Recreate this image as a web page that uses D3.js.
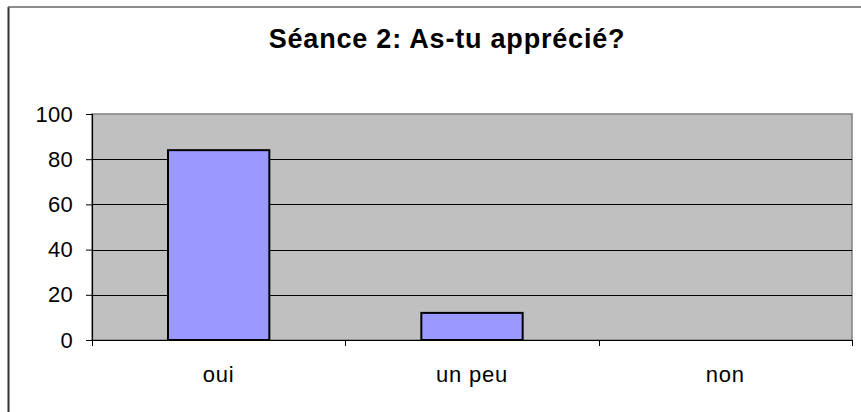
<!DOCTYPE html>
<html><head><meta charset="utf-8">
<script src="https://cdn.jsdelivr.net/npm/d3@7"></script>
<style>body{margin:0;background:#fff}svg{display:block}</style>
</head><body>
<script>
const categories = ["oui", "un peu", "non"];
const values = [84, 12, 0];
const yTicks = [0, 20, 40, 60, 80, 100];
const title = "Séance 2: As-tu apprécié?";

const W = 861, H = 412;
const m = {left: 92, right: 9, top: 114, bottom: 72};
const FF = "Arial, 'Liberation Sans', sans-serif";
const svg = d3.select("body").append("svg").attr("width", W).attr("height", H)
  .style("font-family", FF);

// outer frame
svg.append("line").attr("x1", 8.5).attr("x2", 8.5).attr("y1", 7).attr("y2", H)
  .attr("stroke", "#333").attr("stroke-width", 2);
svg.append("line").attr("x1", 8).attr("x2", W).attr("y1", 7).attr("y2", 7)
  .attr("stroke", "#666").attr("stroke-width", 1.5);

const x = d3.scaleBand().domain(categories).range([m.left, W - m.right]).paddingInner(0).paddingOuter(0);
const y = d3.scaleLinear().domain([0, 100]).range([H - m.bottom, m.top]);

// plot area
svg.append("rect").attr("x", m.left).attr("y", m.top)
  .attr("width", W - m.right - m.left).attr("height", H - m.bottom - m.top)
  .attr("fill", "#C0C0C0").attr("stroke", "#808080").attr("stroke-width", 1.5);

// gridlines
svg.append("g").selectAll("line").data(yTicks.filter(d => d > 0 && d < 100)).join("line")
  .attr("x1", m.left).attr("x2", W - m.right)
  .attr("y1", d => Math.round(y(d)) + 0.5).attr("y2", d => Math.round(y(d)) + 0.5)
  .attr("stroke", "#000").attr("stroke-width", 1);

// bars
const bw = x.bandwidth() / 2.5;
svg.append("g").selectAll("rect").data(categories.map((c, i) => ({c, v: values[i]})).filter(d => d.v > 0)).join("rect")
  .attr("x", d => x(d.c) + x.bandwidth() / 2 - bw / 2)
  .attr("y", d => y(d.v))
  .attr("width", bw)
  .attr("height", d => y(0) - y(d.v))
  .attr("fill", "#9999FF").attr("stroke", "#000").attr("stroke-width", 2);

// y axis
const yAxis = svg.append("g").attr("transform", `translate(${m.left},0)`)
  .call(d3.axisLeft(y).tickValues(yTicks).tickSize(6).tickPadding(13));
yAxis.select(".domain").attr("stroke", "#000").attr("stroke-width", 1.2);
yAxis.selectAll(".tick line").attr("stroke", "#000");
yAxis.selectAll("text").attr("font-size", 22).attr("fill", "#000")
  .attr("font-family", FF).attr("letter-spacing", 0.3);

// x axis
const xAxis = svg.append("g").attr("transform", `translate(0,${H - m.bottom})`)
  .call(d3.axisBottom(x).tickSize(0).tickPadding(26));
xAxis.select(".domain").attr("stroke", "#000").attr("stroke-width", 1.2);
xAxis.selectAll("text").attr("font-size", 22).attr("fill", "#000")
  .attr("font-family", FF).attr("letter-spacing", 0.8);
// category boundary ticks
const bounds = categories.map(c => x(c)).concat([x(categories[categories.length - 1]) + x.bandwidth()]);
svg.append("g").selectAll("line").data(bounds).join("line")
  .attr("x1", d => Math.round(d) + 0.5).attr("x2", d => Math.round(d) + 0.5)
  .attr("y1", H - m.bottom).attr("y2", H - m.bottom + 6)
  .attr("stroke", "#000");

// title
svg.append("text").attr("x", 447).attr("y", 48).attr("text-anchor", "middle")
  .attr("font-size", 27).attr("font-weight", "bold").attr("letter-spacing", 0.8)
  .attr("fill", "#000").text(title);
</script>
</body></html>
